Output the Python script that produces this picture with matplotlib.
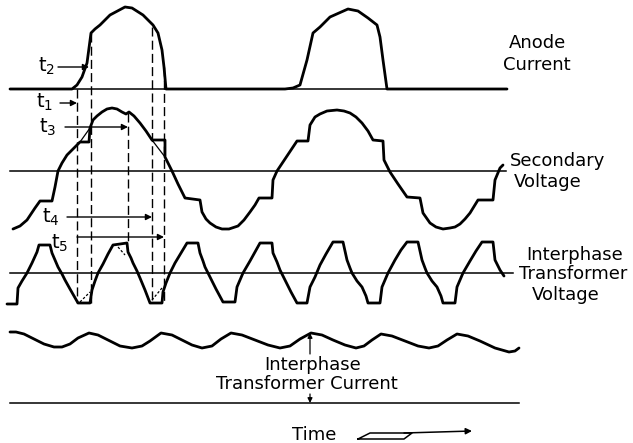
import matplotlib.pyplot as plt

plt.rcParams['mathtext.fontset'] = 'dejavusans'

# time runs in sheet units (0..633), amplitudes are measured up from each trace's zero line
anode_t = [10, 72, 77, 82, 87, 91, 95, 100, 110, 125, 132, 143, 153, 158, 162, 164, 166,
           285, 293, 300, 307, 313, 320, 330, 348, 358, 368, 377, 380, 383, 387, 507]
anode_i = [0, 0, 4, 12, 26, 56, 60, 64, 74, 82, 81, 74, 64, 56, 39, 22, 0,
           0, 1, 4, 29, 56, 62, 72, 80, 78, 71, 64, 52, 29, 0, 0]

sec_t = [13, 20, 27, 35, 40, 52, 55, 58, 62, 67, 72, 77, 80, 89, 90, 93, 97, 102, 107, 112,
         117, 122, 126, 129, 134, 140, 146, 152, 165, 165, 172, 178, 185, 200, 202, 206, 210,
         216, 222, 229, 235, 238, 244, 250, 255, 259, 272, 273, 277, 287, 297, 308, 310, 315,
         320, 327, 337, 344, 350, 356, 362, 368, 373, 383, 384, 390, 398, 407, 420, 423, 430,
         436, 443, 450, 455, 460, 465, 470, 478, 493, 495, 500, 503]
sec_v = [-58, -55, -49, -37, -30, -30, -16, 0, 8, 16, 21, 26, 29, 29, 43, 51, 55, 59, 62, 63,
         62, 59, 57, 59, 55, 48, 40, 31, 31, 14, 0, -13, -27, -29, -41, -48, -52,
         -56, -58, -58, -56, -55, -49, -41, -34, -27, -27, -9, 0, 15, 30, 30, 46, 54,
         57, 60, 61, 60, 58, 54, 48, 40, 31, 30, 11, -1, -13, -26, -27, -42, -52,
         -56, -58, -57, -56, -53, -48, -42, -29, -29, -9, 3, 6]

ipv_t = [7, 17, 18, 22, 27, 32, 37, 39, 50, 52, 55, 58, 62, 65, 70, 74, 78, 90, 92, 95, 98,
         103, 108, 113, 127, 128, 131, 133, 137, 140, 145, 150, 162, 163, 166, 170, 175, 181,
         187, 198, 200, 203, 205, 210, 216, 223, 235, 237, 240, 243, 250, 255, 260, 272, 273,
         277, 280, 285, 291, 297, 307, 310, 315, 320, 326, 333, 343, 347, 350, 352, 357, 362,
         366, 368, 380, 382, 385, 388, 395, 401, 407, 418, 422, 425, 427, 432, 437, 441, 443,
         455, 457, 460, 463, 470, 476, 482, 493, 495, 500, 504]
ipv_v = [-31, -31, -15, -8, 0, 10, 21, 28, 28, 20, 13, 6, -1, -7, -16, -23, -30, -30, -17, -8, 0,
         9, 19, 28, 30, 21, 15, 10, 2, -5, -17, -30, -30, -19, -10, 0, 10, 20,
         30, 30, 20, 12, 6, -4, -16, -29, -29, -14, -7, 0, 12, 21, 30, 30, 20,
         11, 3, -7, -19, -30, -30, -14, -4, 8, 19, 31, 31, 13, 5, 0, -8, -14,
         -23, -30, -30, -14, -7, 0, 13, 23, 31, 31, 13, 5, 0, -8, -14, -23, -30,
         -30, -14, -7, 0, 12, 22, 31, 31, 13, 3, -3]

ipc_t = [10, 16, 24, 34, 44, 54, 62, 70, 78, 89, 98, 108, 120, 132, 142, 150, 161, 172, 182,
         192, 202, 212, 221, 231, 242, 255, 268, 280, 290, 300, 311, 322, 333, 345, 356, 364,
         372, 381, 392, 405, 418, 429, 438, 447, 457, 468, 480, 495, 509, 515, 519]
ipc_v = [71, 71, 69, 64, 59, 56, 56, 59, 65, 70, 68, 63, 57, 55, 57, 62, 70, 68, 63,
         58, 55, 57, 64, 70, 68, 63, 58, 55, 57, 64, 70, 68, 63, 58, 55, 57,
         63, 69, 67, 62, 57, 55, 57, 63, 69, 67, 62, 55, 51, 52, 55]

# instants t1..t5 and the straight (uncommutated) parts they cut off
instants = [77, 91, 128, 152, 164]
sec_ideal = [((80, 29), (90, 43)), ((152, 31), (165, 14))]
ipv_ideal = [((80, -29), (90, -19)), ((118, 26), (125, 18)), ((152, -27), (162, -15))]

# zero lines on the sheet (pixels from the top)
Y_ANODE, Y_SEC, Y_IPV, Y_IPC = 89, 171, 273, 403

fig = plt.figure(figsize=(6.33, 4.43), dpi=100)
ax = fig.add_axes([0, 0, 1, 1])
ax.set_xlim(0, 633)
ax.set_ylim(443, 0)
ax.axis('off')

wave = dict(color='black', lw=2.0, solid_joinstyle='round', solid_capstyle='round')
base = dict(color='black', lw=1.1)
thin = dict(color='black', lw=0.9)
dash = dict(color='black', lw=1.0, linestyle=(0, (6.5, 3)))


def trace(t, v, y0):
    ax.plot(t, [y0 - a for a in v], **wave)


# zero lines
ax.plot([10, 507], [Y_ANODE, Y_ANODE], **base)
ax.plot([10, 506], [Y_SEC, Y_SEC], **base)
ax.plot([10, 513], [Y_IPV, Y_IPV], **base)
ax.plot([10, 519], [Y_IPC, Y_IPC], **base)

trace(anode_t, anode_i, Y_ANODE)
trace(sec_t, sec_v, Y_SEC)
trace(ipv_t, ipv_v, Y_IPV)
trace(ipc_t, ipc_v, Y_IPC)

for (a, b) in sec_ideal:
    ax.plot([a[0], b[0]], [Y_SEC - a[1], Y_SEC - b[1]], **thin)
for (a, b) in ipv_ideal:
    ax.plot([a[0], b[0]], [Y_IPV - a[1], Y_IPV - b[1]], color='black', lw=0.9,
            linestyle=(0, (2, 1.5)))

# dashed instant markers
spans = [(89, 303), (33, 303), (113, 243), (27, 303), (67, 303)]
for x, (y1, y2) in zip(instants, spans):
    ax.plot([x, x], [y1, y2], **dash)

# t labels with their arrows
arrow = dict(arrowstyle='-|>', color='black', lw=1.0, mutation_scale=9,
             shrinkA=0, shrinkB=0)
tlabels = [('t$_1$', 45, 102, 60, 103, instants[0]),
           ('t$_2$', 47, 66, 58, 67, 89),
           ('t$_3$', 48, 127, 65, 127, instants[2]),
           ('t$_4$', 51, 217, 67, 217, instants[3]),
           ('t$_5$', 60, 243, 77, 237, instants[4])]
for txt, lx, ly, x0, y, x1 in tlabels:
    ax.text(lx, ly, txt, fontsize=14, ha='center', va='center')
    ax.annotate('', xy=(x1, y), xytext=(x0, y), arrowprops=arrow)

fs = 13
ax.text(537, 43, 'Anode', fontsize=fs, ha='center', va='center')
ax.text(537, 65, 'Current', fontsize=fs, ha='center', va='center')
ax.text(510, 161, 'Secondary', fontsize=fs, ha='left', va='center')
ax.text(514, 182, 'Voltage', fontsize=fs, ha='left', va='center')
ax.text(575, 255, 'Interphase', fontsize=fs, ha='center', va='center')
ax.text(573, 274, 'Transformer', fontsize=fs, ha='center', va='center')
ax.text(566, 295, 'Voltage', fontsize=fs, ha='center', va='center')
ax.text(313, 365, 'Interphase', fontsize=fs, ha='center', va='center')
ax.text(307, 384, 'Transformer Current', fontsize=fs, ha='center', va='center')
ax.text(314, 435, 'Time', fontsize=fs, ha='center', va='center')

# amplitude arrows for the interphase current
small = dict(arrowstyle='-|>', color='black', lw=0.9, mutation_scale=7,
             shrinkA=0, shrinkB=0)
ax.annotate('', xy=(310, Y_IPC - 70), xytext=(310, 354), arrowprops=small)
ax.annotate('', xy=(310, Y_IPC), xytext=(310, 394), arrowprops=small)

# time direction sign
ax.plot([358, 370, 412, 404, 358], [439, 433, 433, 439, 439], color='black', lw=1.1)
ax.annotate('', xy=(472, 431), xytext=(404, 433), arrowprops=dict(
    arrowstyle='-|>', color='black', lw=1.1, mutation_scale=9, shrinkA=0, shrinkB=0))

fig.savefig('out.png', dpi=100)
